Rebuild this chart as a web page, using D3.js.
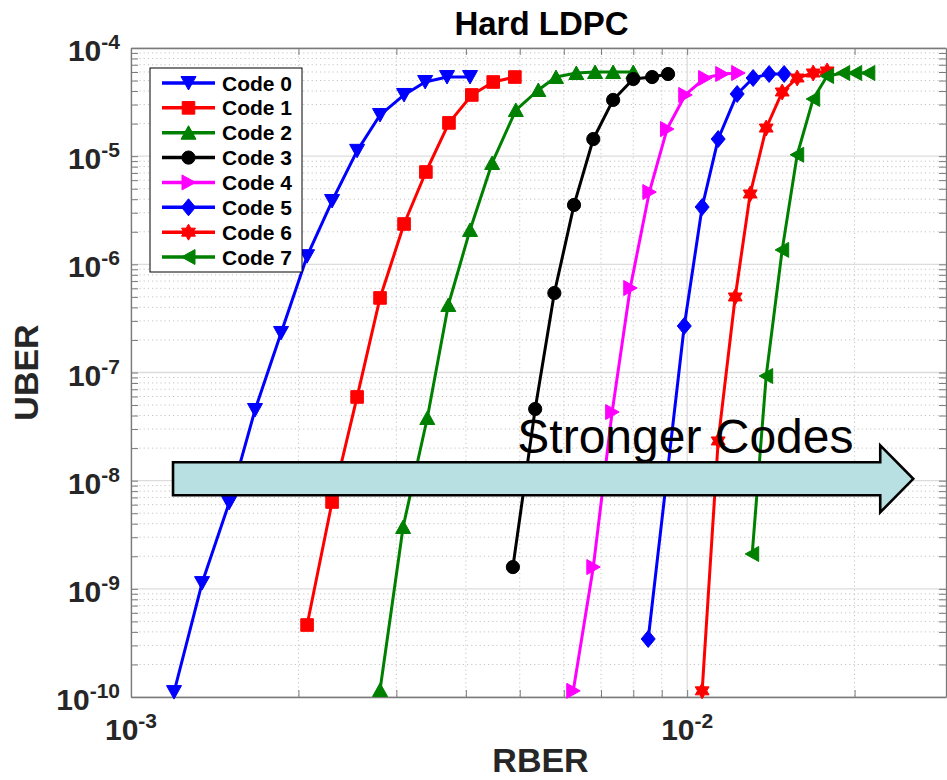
<!DOCTYPE html>
<html>
<head>
<meta charset="utf-8">
<script src="https://cdn.jsdelivr.net/npm/d3@7"></script>
<style>
  body { margin: 0; background: #fff; }
  svg { display: block; font-family: "Liberation Sans", Arial, Helvetica, sans-serif; }
</style>
</head>
<body>
<svg id="chart" width="947" height="780"></svg>
<script>
// ---- data: RBER (x) vs UBER (y) for each hard-decision LDPC code ----
const codeNames   = ["Code 0", "Code 1", "Code 2", "Code 3", "Code 4", "Code 5", "Code 6", "Code 7"];
const codeColors  = ["#0000ff", "#ff0000", "#008000", "#000000", "#ff00ff", "#0000ff", "#ff0000", "#008000"];
const codeMarkers = ["v", "s", "^", "o", ">", "d", "h", "<"];

const rber0 = [1.195e-3, 1.342e-3, 1.501e-3, 1.671e-3, 1.861e-3, 2.073e-3, 2.299e-3, 2.550e-3, 2.804e-3, 3.097e-3, 3.38e-3, 3.70e-3, 4.07e-3];
const uber0 = [1.11e-10, 1.13e-9, 6.22e-9, 4.5e-8, 2.32e-7, 1.19e-6, 3.85e-6, 1.12e-5, 2.40e-5, 3.68e-5, 4.85e-5, 5.39e-5, 5.39e-5];

const rber1 = [2.073e-3, 2.299e-3, 2.550e-3, 2.804e-3, 3.097e-3, 3.39e-3, 3.73e-3, 4.10e-3, 4.48e-3, 4.90e-3];
const uber1 = [4.63e-10, 6.35e-9, 5.94e-8, 4.89e-7, 2.36e-6, 7.14e-6, 2.03e-5, 3.68e-5, 4.85e-5, 5.39e-5];

const rber2 = [2.804e-3, 3.085e-3, 3.41e-3, 3.72e-3, 4.07e-3, 4.46e-3, 4.92e-3, 5.40e-3, 5.81e-3, 6.32e-3, 6.83e-3, 7.36e-3, 8.0e-3];
const uber2 = [1.16e-10, 3.73e-9, 3.80e-8, 4.21e-7, 2.08e-6, 8.65e-6, 2.67e-5, 4.09e-5, 5.39e-5, 5.87e-5, 6.0e-5, 6.0e-5, 6.0e-5];

const rber3 = [4.86e-3, 5.33e-3, 5.77e-3, 6.26e-3, 6.78e-3, 7.36e-3, 8.0e-3, 8.65e-3, 9.24e-3];
const uber3 = [1.59e-9, 4.60e-8, 5.43e-7, 3.54e-6, 1.44e-5, 3.31e-5, 5.17e-5, 5.39e-5, 5.75e-5];

const rber4 = [6.24e-3, 6.78e-3, 7.33e-3, 7.90e-3, 8.55e-3, 9.20e-3, 9.92e-3, 1.077e-2, 1.156e-2, 1.235e-2];
const uber4 = [1.14e-10, 1.59e-9, 4.31e-8, 6.04e-7, 4.66e-6, 1.78e-5, 3.68e-5, 5.28e-5, 5.75e-5, 5.87e-5];

const rber5 = [8.51e-3, 9.88e-3, 1.064e-2, 1.137e-2, 1.230e-2, 1.314e-2, 1.404e-2, 1.494e-2];
const uber5 = [3.44e-10, 2.69e-7, 3.39e-6, 1.44e-5, 3.76e-5, 5.28e-5, 5.75e-5, 5.75e-5];

const rber6 = [1.064e-2, 1.137e-2, 1.220e-2, 1.298e-2, 1.387e-2, 1.482e-2, 1.577e-2, 1.685e-2, 1.785e-2];
const uber6 = [1.14e-10, 2.33e-8, 4.99e-7, 4.47e-6, 1.82e-5, 3.92e-5, 5.28e-5, 5.87e-5, 6.13e-5];

const rber7 = [1.309e-2, 1.387e-2, 1.482e-2, 1.577e-2, 1.685e-2, 1.785e-2, 1.908e-2, 2.005e-2, 2.117e-2];
const uber7 = [2.10e-9, 9.28e-8, 1.36e-6, 1.03e-5, 3.38e-5, 5.51e-5, 5.87e-5, 5.87e-5, 5.87e-5];

// axis decades (labels are 10^exp)
const xTickExps = [-3, -2];
const yTickExps = [-10, -9, -8, -7, -6, -5, -4];

// annotation arrow (data units)
const arrowFrom = 1.19e-3, arrowBase = 2.224e-2, arrowTip = 2.55e-2, arrowLevel = 1.04e-8;
const arrowText = "Stronger Codes", arrowTextX = 4.95e-3;

// ---- build series ----
const rbers = [rber0, rber1, rber2, rber3, rber4, rber5, rber6, rber7];
const ubers = [uber0, uber1, uber2, uber3, uber4, uber5, uber6, uber7];
const series = codeNames.map((name, i) => ({
  name, color: codeColors[i], marker: codeMarkers[i],
  points: rbers[i].map((r, j) => [r, ubers[i][j]])
}));

// ---- layout ----
const svg = d3.select("#chart");
const plot = { left: 131, right: 946, top: 48, bottom: 697 };

const x = d3.scaleLog().domain([1e-3, 0.0292]).range([plot.left, plot.right]);
const y = d3.scaleLog().domain([1e-10, 1e-4]).range([plot.bottom, plot.top]);

const xMajor = xTickExps.map(e => Math.pow(10, e));
const yMajor = yTickExps.map(e => Math.pow(10, e));
const minorOf = (exps, dom) => {
  const out = [];
  exps.forEach(e => { for (let m = 2; m <= 9; m++) { const v = m * Math.pow(10, e); if (v > dom[0] && v < dom[1]) out.push(v); } });
  return out;
};
const xMinor = minorOf(xTickExps, x.domain());
const yMinor = minorOf(yTickExps, y.domain());

// ---- grid ----
const grid = svg.append("g");
grid.selectAll(".xmin").data(xMinor).join("line")
  .attr("x1", d => x(d)).attr("x2", d => x(d)).attr("y1", plot.top).attr("y2", plot.bottom)
  .attr("stroke", "#c4c4c4").attr("stroke-width", 1).attr("stroke-dasharray", "1.2,3");
grid.selectAll(".ymin").data(yMinor).join("line")
  .attr("y1", d => y(d)).attr("y2", d => y(d)).attr("x1", plot.left).attr("x2", plot.right)
  .attr("stroke", "#c4c4c4").attr("stroke-width", 1).attr("stroke-dasharray", "1.2,3");
grid.selectAll(".xmaj").data(xMajor).join("line")
  .attr("x1", d => x(d)).attr("x2", d => x(d)).attr("y1", plot.top).attr("y2", plot.bottom)
  .attr("stroke", "#dcdcdc").attr("stroke-width", 1.3);
grid.selectAll(".ymaj").data(yMajor).join("line")
  .attr("y1", d => y(d)).attr("y2", d => y(d)).attr("x1", plot.left).attr("x2", plot.right)
  .attr("stroke", "#dcdcdc").attr("stroke-width", 1.3);

// ---- axes (ticks inward, box on all sides) ----
const axisColor = "#7a7a7a";
const allX = xMajor.concat(xMinor), allY = yMajor.concat(yMinor);
function styleAxis(g) {
  g.selectAll("path.domain").attr("stroke", axisColor).attr("stroke-width", 1.3);
  g.selectAll(".tick line").attr("stroke", axisColor).attr("stroke-width", 1);
  g.selectAll(".tick text").remove();
}
svg.append("g").attr("transform", `translate(0,${plot.bottom})`)
  .call(d3.axisBottom(x).tickValues(allX).tickSizeInner(-7).tickSizeOuter(0).tickFormat(() => "")).call(styleAxis);
svg.append("g").attr("transform", `translate(0,${plot.top})`)
  .call(d3.axisTop(x).tickValues(allX).tickSizeInner(-7).tickSizeOuter(0).tickFormat(() => "")).call(styleAxis);
svg.append("g").attr("transform", `translate(${plot.left},0)`)
  .call(d3.axisLeft(y).tickValues(allY).tickSizeInner(-7).tickSizeOuter(0).tickFormat(() => "")).call(styleAxis);
svg.append("g").attr("transform", `translate(${plot.right},0)`)
  .call(d3.axisRight(y).tickValues(allY).tickSizeInner(-7).tickSizeOuter(0).tickFormat(() => "")).call(styleAxis);

// ---- tick labels as 10^exp ----
const labelColor = "#262626";
function powLabel(sel, exp) {
  sel.append("tspan").attr("font-size", 30).text("10");
  sel.append("tspan").attr("font-size", 21).attr("dy", -12).text(String(exp));
}
svg.append("g").selectAll("text").data(xTickExps).join("text")
  .attr("x", d => x(Math.pow(10, d))).attr("y", 740)
  .attr("text-anchor", "middle").attr("font-weight", "bold").attr("fill", labelColor)
  .each(function (d) { powLabel(d3.select(this), d); });
svg.append("g").selectAll("text").data(yTickExps).join("text")
  .attr("x", plot.left - 11).attr("y", d => y(Math.pow(10, d)) + 13)
  .attr("text-anchor", "end").attr("font-weight", "bold").attr("fill", labelColor)
  .each(function (d) { powLabel(d3.select(this), d); });

// ---- titles ----
svg.append("text").attr("x", (plot.left + plot.right) / 2 + 3).attr("y", 35)
  .attr("text-anchor", "middle").attr("font-weight", "bold").attr("font-size", 33).attr("fill", "#000")
  .text("Hard LDPC");
svg.append("text").attr("x", (plot.left + plot.right) / 2 + 2).attr("y", 772)
  .attr("text-anchor", "middle").attr("font-weight", "bold").attr("font-size", 34).attr("fill", labelColor)
  .text("RBER");
svg.append("text").attr("transform", `translate(38,${(plot.top + plot.bottom) / 2}) rotate(-90)`)
  .attr("text-anchor", "middle").attr("font-weight", "bold").attr("font-size", 34).attr("fill", labelColor)
  .text("UBER");

// ---- markers ----
function starPath(ro, ri, n) {
  const pts = [];
  for (let i = 0; i < 2 * n; i++) {
    const r = i % 2 ? ri : ro, a = -Math.PI / 2 + i * Math.PI / n;
    pts.push([r * Math.cos(a), r * Math.sin(a)]);
  }
  return "M" + pts.map(p => p[0].toFixed(2) + "," + p[1].toFixed(2)).join("L") + "Z";
}
function markerPath(type) {
  switch (type) {
    case "v": return "M-7.5,-6.5L7.5,-6.5L0,7Z";
    case "^": return "M-7.5,6.5L7.5,6.5L0,-7Z";
    case ">": return "M-6.5,-7.5L-6.5,7.5L7,0Z";
    case "<": return "M6.5,-7.5L6.5,7.5L-7,0Z";
    case "s": return "M-6.3,-6.3L6.3,-6.3L6.3,6.3L-6.3,6.3Z";
    case "d": return "M0,-8.5L7,0L0,8.5L-7,0Z";
    case "h": return starPath(8, 4.6, 6);
    default:  return d3.symbol().type(d3.symbolCircle).size(Math.PI * 6.6 * 6.6)();
  }
}

// ---- curves ----
const line = d3.line().x(d => x(d[0])).y(d => y(d[1]));
const curves = svg.append("g");
series.forEach(s => {
  const g = curves.append("g");
  g.append("path").datum(s.points).attr("d", line)
    .attr("fill", "none").attr("stroke", s.color).attr("stroke-width", 3).attr("stroke-linejoin", "round");
  g.selectAll("path.m").data(s.points).join("path").attr("class", "m")
    .attr("transform", d => `translate(${x(d[0])},${y(d[1])})`)
    .attr("d", markerPath(s.marker)).attr("fill", s.color).attr("stroke", s.color).attr("stroke-width", 1);
});

// ---- annotation arrow ----
const yc = y(arrowLevel), bodyH = 16.5, headH = 33.5;
const ax0 = x(arrowFrom), axb = x(arrowBase), axt = x(arrowTip);
svg.append("path")
  .attr("d", `M${ax0},${yc - bodyH}L${axb},${yc - bodyH}L${axb},${yc - headH}L${axt},${yc}L${axb},${yc + headH}L${axb},${yc + bodyH}L${ax0},${yc + bodyH}Z`)
  .attr("fill", "#b8dfe1").attr("stroke", "#000").attr("stroke-width", 2.6).attr("stroke-linejoin", "miter");
svg.append("text").attr("x", x(arrowTextX)).attr("y", yc - 26)
  .attr("font-size", 48).attr("fill", "#000").text(arrowText);

// ---- legend ----
const leg = svg.append("g").attr("transform", "translate(150,68)");
leg.append("rect").attr("width", 152).attr("height", 204).attr("fill", "#fff").attr("stroke", "#000").attr("stroke-width", 1);
const rowH = 24.86;
series.forEach((s, i) => {
  const cy = 15 + i * rowH;
  const r = leg.append("g").attr("transform", `translate(0,${cy})`);
  r.append("line").attr("x1", 12).attr("x2", 65).attr("stroke", s.color).attr("stroke-width", 3.5);
  r.append("path").attr("transform", "translate(38.5,0)").attr("d", markerPath(s.marker))
    .attr("fill", s.color).attr("stroke", s.color).attr("stroke-width", 1);
  r.append("text").attr("x", 72).attr("y", 7.5).attr("font-size", 21).attr("font-weight", "bold")
    .attr("fill", "#000").text(s.name);
});
</script>
</body>
</html>
